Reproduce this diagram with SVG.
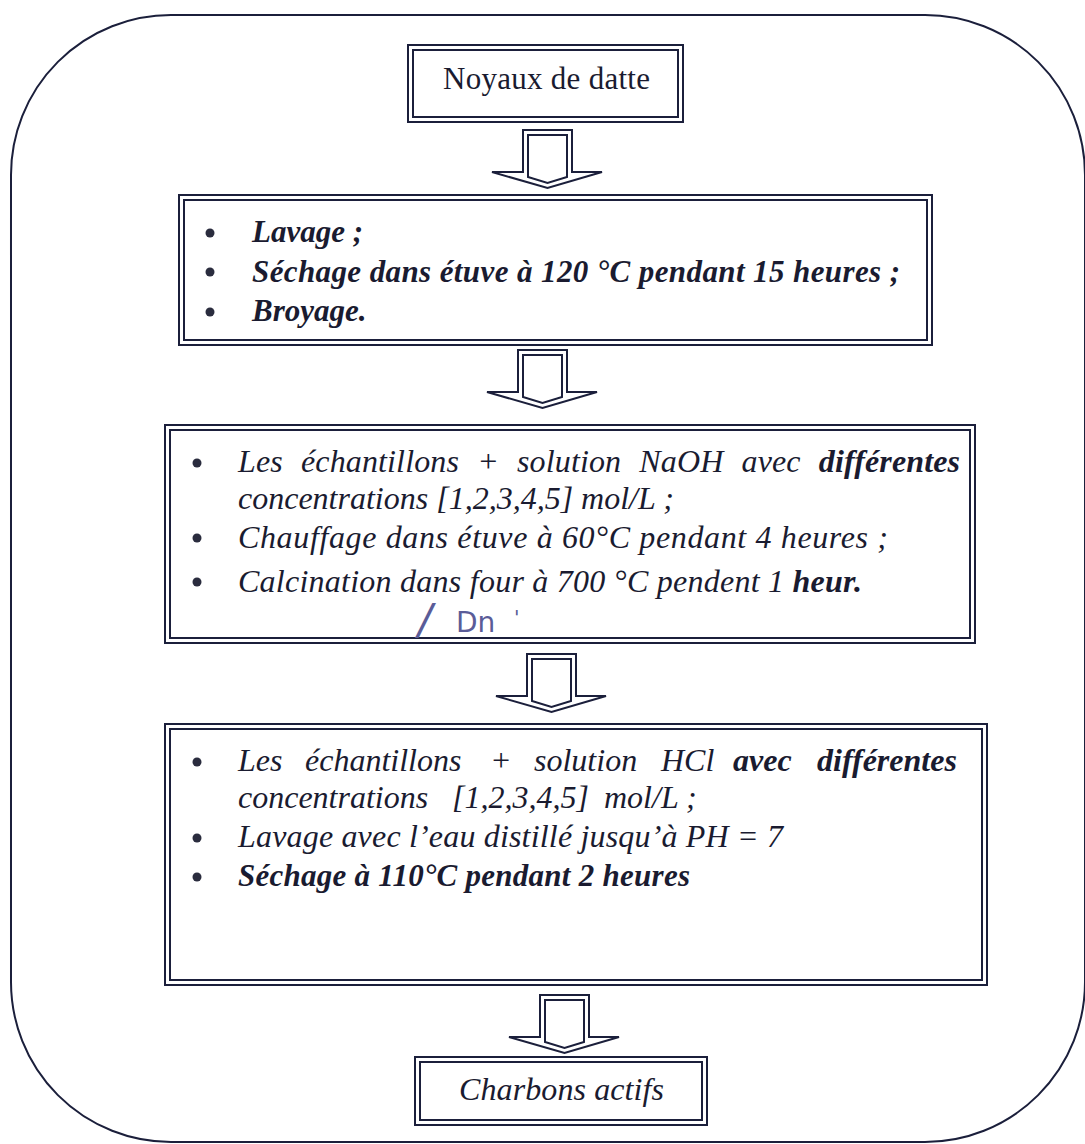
<svg xmlns="http://www.w3.org/2000/svg" width="1085" height="1144" viewBox="0 0 1085 1144">
<style>
.frame{fill:none;stroke:#1b1f3b;stroke-width:2}
.bx{fill:none;stroke:#1b1f3b;stroke-width:2}
.t{font-family:"Liberation Serif","Times New Roman",serif;fill:#1a1b30}
.bi{font-style:italic;font-weight:bold;font-size:31px}
.i{font-style:italic;font-size:32px}
.b{font-weight:bold}
.dot{fill:#2a2c3e}
.ar{fill:#fff;stroke:#1b1f3b;stroke-width:2}
.arin{fill:none;stroke:#1b1f3b;stroke-width:2}
.hand{font-family:"DejaVu Sans",sans-serif;font-style:italic;fill:#5a5c98}
</style>
<defs>
<g id="arrow">
<polygon class="ar" points="0,0 49,0 49,42 79,42 24.5,58 -31,42 0,42"/>
<polygon class="arin" points="5,5 44,5 44,47 24.5,53 5,47"/>
</g>
</defs>
<rect width="1085" height="1144" fill="#fff"/>
<rect class="frame" x="11" y="15" width="1074" height="1127" rx="160" ry="160"/>

<g id="connectors">
<use href="#arrow" x="523" y="130"/>
<use href="#arrow" x="518" y="350"/>
<use href="#arrow" x="527" y="654"/>
<use href="#arrow" x="540" y="995"/>
</g>

<g id="n1">
<rect class="bx" x="408" y="45" width="275" height="77"/>
<rect class="bx" x="413" y="50" width="265" height="67"/>
<text class="t" x="443" y="89" font-size="31" textLength="207" lengthAdjust="spacing">Noyaux de datte</text>
</g>

<g id="n2">
<rect class="bx" x="179" y="195" width="753" height="150"/>
<rect class="bx" x="184" y="200" width="743" height="140"/>
<circle class="dot" cx="210" cy="233" r="4.5"/>
<circle class="dot" cx="210" cy="272" r="4.5"/>
<circle class="dot" cx="210" cy="312" r="4.5"/>
<text class="t bi" x="252" y="242">Lavage ;</text>
<text class="t bi" x="252" y="282" textLength="648" lengthAdjust="spacing">Séchage dans étuve à 120 °C pendant 15 heures ;</text>
<text class="t bi" x="252" y="321">Broyage.</text>
</g>

<g id="n3">
<rect class="bx" x="165" y="425" width="810" height="218"/>
<rect class="bx" x="170" y="430" width="800" height="208"/>
<circle class="dot" cx="197" cy="463" r="4.5"/>
<circle class="dot" cx="197" cy="538" r="4.5"/>
<circle class="dot" cx="197" cy="582" r="4.5"/>
<text class="t i" x="238" y="472" word-spacing="10" textLength="722" lengthAdjust="spacing">Les échantillons + solution NaOH avec <tspan class="b">différentes</tspan></text>
<text class="t i" x="238" y="509">concentrations [1,2,3,4,5] mol/L ;</text>
<text class="t i" x="238" y="548" textLength="650" lengthAdjust="spacing">Chauffage dans étuve à 60°C pendant 4 heures ;</text>
<text class="t i" x="238" y="592" textLength="624" lengthAdjust="spacing">Calcination dans four à 700 °C pendent 1 <tspan class="b">heur.</tspan></text>
<text class="hand" y="634"><tspan x="418" font-size="42">/</tspan><tspan x="456" y="632" font-size="28" font-style="normal">Dn</tspan><tspan x="514" y="624" font-size="20">'</tspan></text>
</g>

<g id="n4">
<rect class="bx" x="165" y="724" width="822" height="261"/>
<rect class="bx" x="170" y="729" width="812" height="251"/>
<circle class="dot" cx="197" cy="762" r="4.5"/>
<circle class="dot" cx="197" cy="838" r="4.5"/>
<circle class="dot" cx="197" cy="877" r="4.5"/>
<text class="t i" y="771"><tspan x="238">Les</tspan><tspan x="305">échantillons</tspan><tspan x="490">+</tspan><tspan x="534">solution</tspan><tspan x="661">HCl</tspan><tspan x="733" class="b">avec</tspan><tspan x="817" class="b">différentes</tspan></text>
<text class="t i" y="808"><tspan x="238">concentrations</tspan><tspan x="452">[1,2,3,4,5]</tspan><tspan x="604">mol/L ;</tspan></text>
<text class="t i" x="238" y="847" textLength="545" lengthAdjust="spacing">Lavage avec l’eau distillé jusqu’à PH = 7</text>
<text class="t bi" x="238" y="886" textLength="452" lengthAdjust="spacing">Séchage à 110°C pendant 2 heures</text>
</g>

<g id="n5">
<rect class="bx" x="415" y="1057" width="292" height="68"/>
<rect class="bx" x="420" y="1062" width="282" height="58"/>
<text class="t" x="459" y="1100" font-size="32" font-style="italic" textLength="205" lengthAdjust="spacing">Charbons actifs</text>
</g>
</svg>
